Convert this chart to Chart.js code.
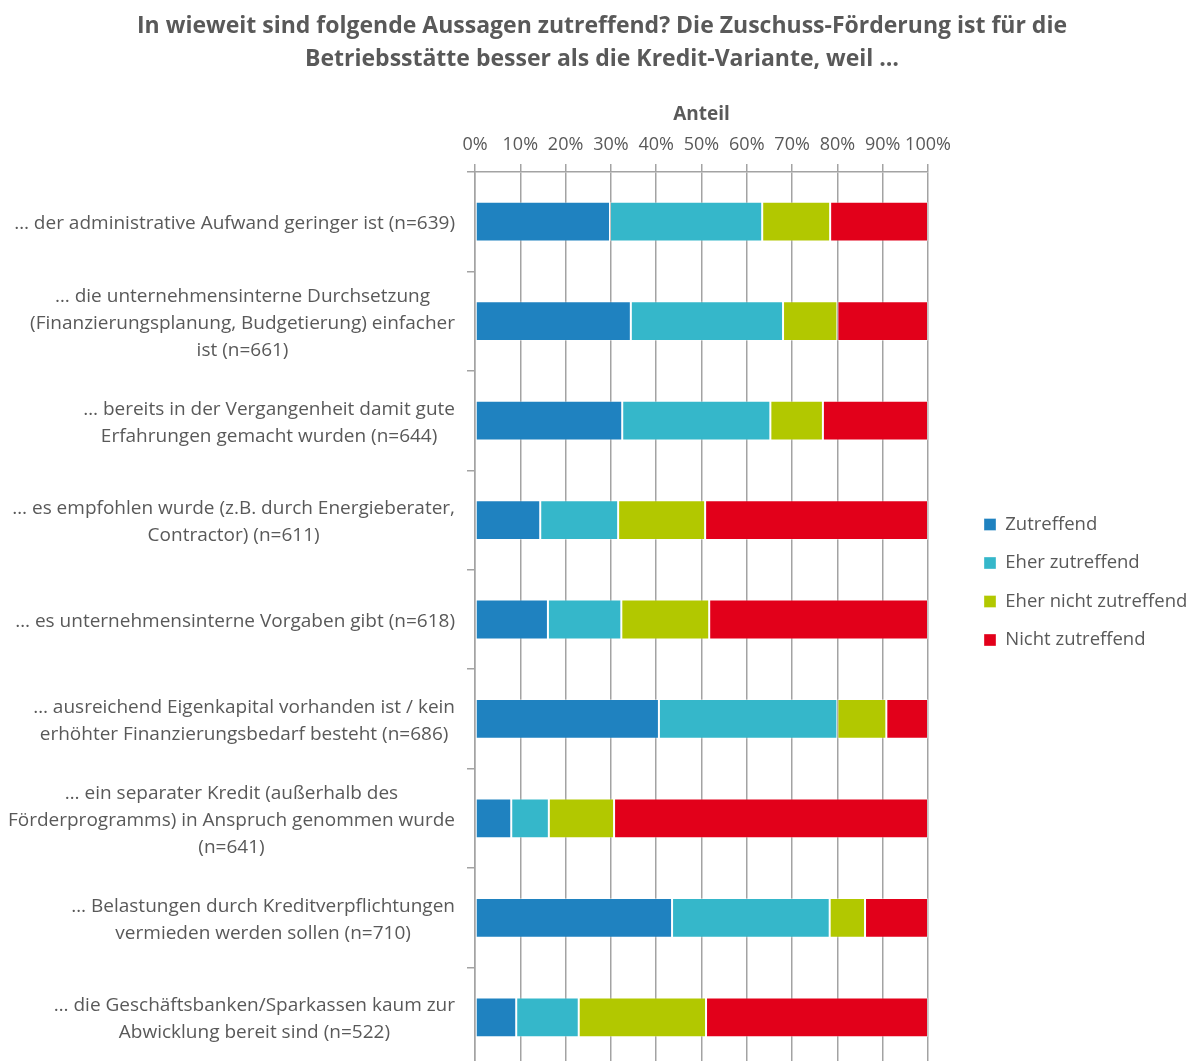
<!DOCTYPE html>
<html>
<head>
<meta charset="utf-8">
<script src="https://cdn.jsdelivr.net/npm/chart.js@4.4.1/dist/chart.umd.min.js"></script>
<style>
html,body{margin:0;padding:0;background:#fff;overflow:hidden;}
#wrap{width:1195px;height:1067px;}
</style>
</head>
<body>
<div id="wrap"><canvas id="c" width="1195" height="1067"></canvas></div>
<script>
// ---- data ----
const titleLines = [
  'In wieweit sind folgende Aussagen zutreffend? Die Zuschuss-Förderung ist für die',
  'Betriebsstätte besser als die Kredit-Variante, weil …'
];
const axisTitle = 'Anteil';
const categories = [
  ['… der administrative Aufwand geringer ist (n=639)'],
  ['… die unternehmensinterne Durchsetzung', '(Finanzierungsplanung, Budgetierung) einfacher', 'ist (n=661)'],
  ['… bereits in der Vergangenheit damit gute', 'Erfahrungen gemacht wurden (n=644)'],
  ['… es empfohlen wurde (z.B. durch Energieberater,', 'Contractor) (n=611)'],
  ['… es unternehmensinterne Vorgaben gibt (n=618)'],
  ['… ausreichend Eigenkapital vorhanden ist / kein', 'erhöhter Finanzierungsbedarf besteht (n=686)'],
  ['… ein separater Kredit (außerhalb des', 'Förderprogramms) in Anspruch genommen wurde', '(n=641)'],
  ['… Belastungen durch Kreditverpflichtungen', 'vermieden werden sollen (n=710)'],
  ['… die Geschäftsbanken/Sparkassen kaum zur', 'Abwicklung bereit sind (n=522)']
];
const seriesNames = ['Zutreffend', 'Eher zutreffend', 'Eher nicht zutreffend', 'Nicht zutreffend'];
const zutreffend         = [29.8, 34.4, 32.5, 14.4, 16.1, 40.6,  8.0, 43.5,  9.1];
const eherZutreffend     = [33.6, 33.6, 32.7, 17.2, 16.2, 39.4,  8.3, 34.8, 13.8];
const eherNichtZutreffend= [15.0, 12.0, 11.6, 19.2, 19.4, 10.8, 14.4,  7.8, 28.1];
const nichtZutreffend    = [21.6, 20.0, 23.2, 49.2, 48.3,  9.2, 69.3, 13.9, 49.0];
const xTickLabels = ['0%','10%','20%','30%','40%','50%','60%','70%','80%','90%','100%'];
const seriesColors = ['#1f82c0', '#35b7ca', '#b2c800', '#e2001a'];

// ---- styling ----
const TEXT = '#595959';
const GRID = '#a3a3a3';
const FONT = "'Open Sans', 'DejaVu Sans', sans-serif";
Chart.defaults.font.family = FONT;
Chart.defaults.color = TEXT;

const seriesValues = [zutreffend, eherZutreffend, eherNichtZutreffend, nichtZutreffend];
const datasets = seriesNames.map((name, i) => ({
  label: name,
  data: seriesValues[i],
  backgroundColor: seriesColors[i],
  borderColor: 'rgba(255,255,255,0.35)',
  borderWidth: 1,
  borderSkipped: false,
  barPercentage: 0.4,
  categoryPercentage: 1.0
}));

// Category labels: each block right-aligned at the axis, lines centred within block
const yLabelPlugin = {
  id: 'yLabels',
  afterDraw(chart) {
    const ctx = chart.ctx, ys = chart.scales.y;
    ctx.save();
    ctx.font = '19px ' + FONT;
    ctx.fillStyle = TEXT;
    ctx.textBaseline = 'middle';
    ctx.textAlign = 'center';
    const right = ys.right - 8 - 12;
    const lh = 27;
    categories.forEach((lines, i) => {
      const w = Math.max(...lines.map(l => ctx.measureText(l).width));
      const cx = right - w / 2;
      const cy = ys.getPixelForTick(i) + 2;
      lines.forEach((l, j) => ctx.fillText(l, cx, cy + (j - (lines.length - 1) / 2) * lh));
    });
    ctx.restore();
  }
};

const layoutPlugin = {
  id: 'layoutFix',
  beforeLayout(chart) {
    const lg = chart.legend;
    if (lg && !lg._patched) {
      const orig = lg.fit.bind(lg);
      lg.fit = function () { orig(); this.width = 267; };
      lg._patched = true;
    }
  },
  afterLayout(chart) {
    const lg = chart.legend;
    if (!lg) return;
    const pad = lg.options.labels.padding;
    lg.left = 984 - pad; lg.right = 1195;
    lg.top = 515.25 - pad; lg.bottom = lg.top + 220;
  }
};

new Chart(document.getElementById('c'), {
  type: 'bar',
  data: { labels: categories.map(c => c.join(' ')), datasets },
  plugins: [layoutPlugin, yLabelPlugin],
  options: {
    indexAxis: 'y',
    responsive: false,
    animation: false,
    devicePixelRatio: 1,
    layout: { padding: { left: 9, right: 0, top: 0, bottom: 0 } },
    plugins: {
      title: {
        display: true,
        text: titleLines,
        color: TEXT,
        font: { family: FONT, size: 23, weight: 'bold', lineHeight: '33px' },
        padding: { top: 9.5, bottom: 0 }
      },
      legend: {
        display: true,
        position: 'right',
        align: 'start',
        labels: {
          boxWidth: 12, boxHeight: 12,
          padding: 20,
          color: TEXT,
          font: { family: FONT, size: 18.5 }
        }
      },
      tooltip: { enabled: false }
    },
    scales: {
      x: {
        position: 'top',
        stacked: true,
        min: 0, max: 100,
        ticks: {
          stepSize: 10,
          padding: 8,
          color: TEXT,
          font: { family: FONT, size: 18 },
          maxRotation: 0,
          autoSkip: false,
          callback: (v, i) => xTickLabels[i]
        },
        grid: { color: GRID, lineWidth: 1.5, tickLength: 8, drawTicks: true },
        border: { display: true, color: GRID, width: 1.5 },
        title: {
          display: true, text: axisTitle, color: TEXT,
          font: { family: FONT, size: 19, weight: 'bold' },
          padding: { top: 28.1, bottom: 0 }
        },
        afterFit(scale) { scale.height = 96.5; }
      },
      y: {
        stacked: true,
        offset: true,
        ticks: { display: false },
        grid: { offset: true, drawOnChartArea: false, drawTicks: true, tickLength: 8, color: GRID, lineWidth: 1.5 },
        border: { display: true, color: GRID, width: 1.5 },
        afterFit(scale) { scale.width = 466; }
      }
    }
  }
});
</script>
</body>
</html>
